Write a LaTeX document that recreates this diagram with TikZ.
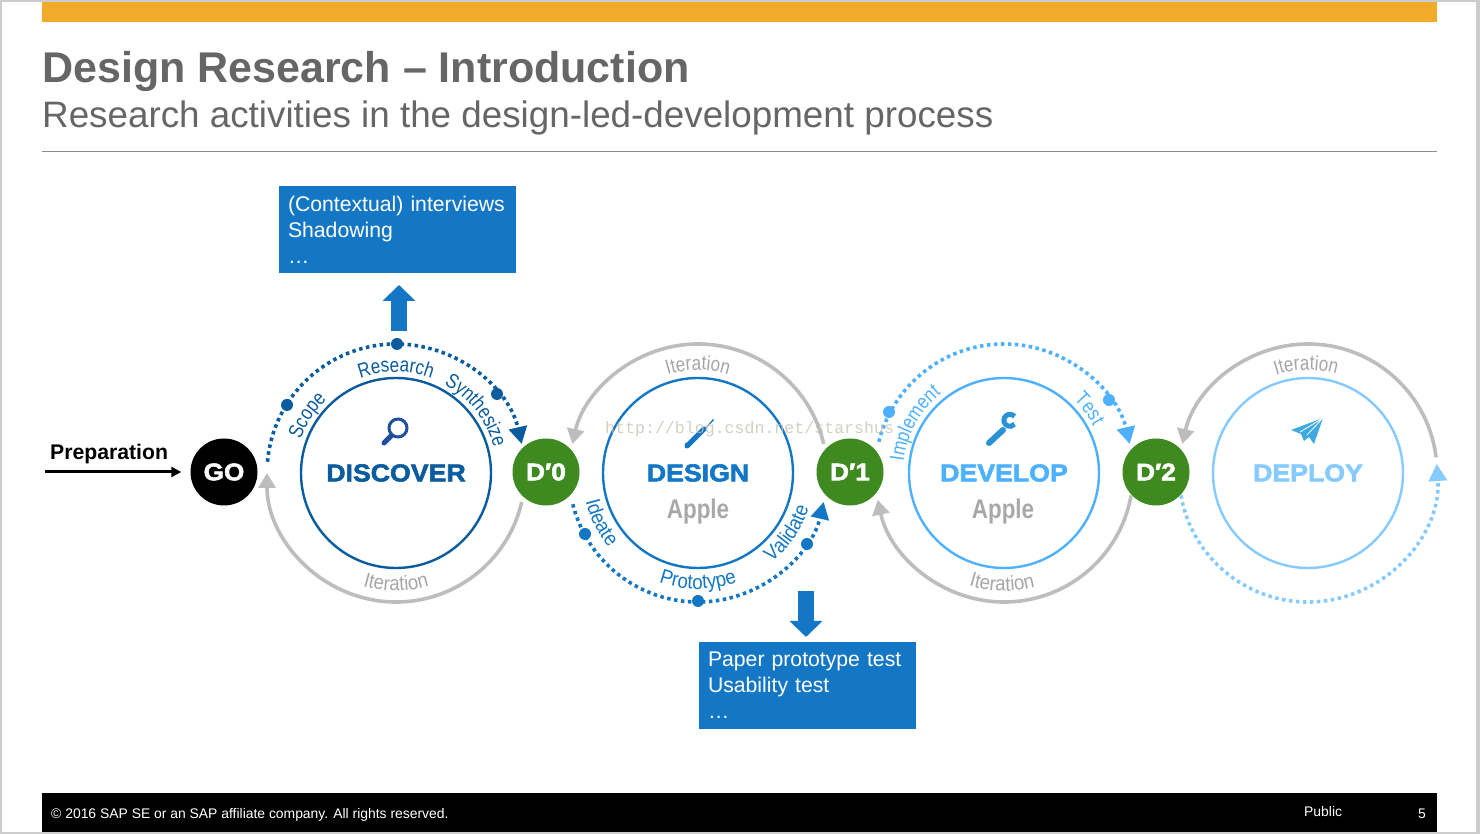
\documentclass[tikz,border=0pt]{standalone}
\usepackage{fontspec}
\setmainfont{Liberation Sans}
\newfontfamily\widefont[FakeStretch=1.09, BoldFeatures={FakeBold=2.4, FakeStretch=1.09}]{Liberation Sans}
\newfontfamily\narrowfont[FakeStretch=0.83, BoldFeatures={FakeStretch=0.83}]{Liberation Sans}
\newfontfamily\lowfont[FakeStretch=0.91]{Liberation Sans}
\newfontfamily\markfont{Liberation Mono}
\usetikzlibrary{arrows.meta,decorations.text}

\definecolor{sapgray}{HTML}{666666}
\definecolor{saporange}{HTML}{F0AB2A}
\definecolor{sapgreen}{HTML}{3F8A20}
\definecolor{arcgray}{HTML}{BDBDBD}
\definecolor{itergray}{HTML}{A6A6A6}
\definecolor{applegray}{HTML}{A8A8A8}
\definecolor{boxblue}{HTML}{1377C5}
\definecolor{discoverblue}{HTML}{0A5C9E}
\definecolor{designblue}{HTML}{1377C5}
\definecolor{developblue}{HTML}{4DB1FF}
\definecolor{deployblue}{HTML}{85CBFF}
\definecolor{lensblue}{HTML}{1F509F}
\definecolor{toolblue}{HTML}{2A93D5}
\definecolor{planeblue}{HTML}{3FA9E0}

\tikzset{
	phase/.style={circle, minimum size=190pt, inner sep=0pt, line width=2.4pt, draw=#1},
	gate/.style={circle, minimum size=67pt, inner sep=0pt, fill=#1, text=white, font=\widefont\bfseries\fontsize{24}{24}\selectfont},
	phasename/.style={text=#1, inner sep=0pt, font=\widefont\bfseries\fontsize{24.5}{25}\selectfont},
	apple/.style={text=applegray, inner sep=0pt, font=\narrowfont\bfseries\fontsize{27}{28}\selectfont},
	stepdot/.style={circle, minimum size=12pt, inner sep=0pt, fill=#1},
	bluebox/.style={fill=boxblue, text=white, align=left, inner xsep=9pt, inner ysep=0pt, minimum height=87pt, font=\fontsize{21.2}{26}\selectfont},
	iterarc/.style={line width=3.6pt, draw=arcgray, -{Triangle[width=17pt,length=15pt]}},
	dotarc/.style={line width=3.6pt, draw=#1, dash pattern=on 3.5pt off 3.5pt, -{Triangle[width=18pt,length=17pt]}},
	blockarrow/.style={line width=16pt, draw=boxblue, -{Triangle[width=32pt,length=16pt]}},
	footertext/.style={text=white, inner sep=0pt, anchor=base west, font=\fontsize{13.9}{14}\selectfont}
}

% text on the upper side of a circle, then on the lower side
\newcommand{\toplabel}[5]{\path[decorate, decoration={text along path, text align=center, text={|\narrowfont\fontsize{20.5}{20}\selectfont\color{#4}|#5}}] ([shift={(#2+70:#3)}]#1.center) arc[start angle=#2+70, end angle=#2-70, radius=#3];}
\newcommand{\lowlabel}[5]{\path[decorate, decoration={text along path, text align=center, text={|\lowfont\fontsize{20.5}{20}\selectfont\color{#4}|#5}}] ([shift={(#2-70:#3)}]#1.center) arc[start angle=#2-70, end angle=#2+70, radius=#3];}

\begin{document}
\begin{tikzpicture}[x=1pt, y=1pt]
	\useasboundingbox (0,0) rectangle (1480,834);
	\fill[black!20] (0,0) rectangle (1480,834);
	\fill[white] (2,2) rectangle (1476,832);
	\fill[saporange] (42,812) rectangle (1437,832);
	\draw[line width=1pt, black!45] (42,682) -- (1437,682);
	\fill[black] (42,2) rectangle (1437,41);

	\node[inner sep=0pt, anchor=base west, text=sapgray, font=\bfseries\fontsize{43}{44}\selectfont] (title) at (42,751) {Design Research – Introduction};
	\node[inner sep=0pt, anchor=base west, text=sapgray, font=\fontsize{36.8}{37}\selectfont] (subtitle) at (42,706) {Research activities in the design-led-development process};
	\node[footertext] (copyright) at (51,15.5) {© 2016 SAP SE or an SAP affiliate company. All rights reserved.};
	\node[footertext] (public) at (1304,17) {Public};
	\node[footertext] (pagenumber) at (1418,15.5) {5};

	\node[phase=discoverblue] (discover) at (396,361) {};
	\node[phase=designblue] (design) at (698,361) {};
	\node[phase=developblue] (develop) at (1004,361) {};
	\node[phase=deployblue] (deploy) at (1308,361) {};

	\node[gate=black] (go) at (224,362) {GO};
	\node[gate=sapgreen] (d0) at (546,362) {D′0};
	\node[gate=sapgreen] (d1) at (850,362) {D′1};
	\node[gate=sapgreen] (d2) at (1156,362) {D′2};

	\node[phasename=discoverblue] (discovername) at (396,361) {DISCOVER};
	\node[phasename=designblue] (designname) at (698,361) {DESIGN};
	\node[phasename=developblue] (developname) at (1004,361) {DEVELOP};
	\node[phasename=deployblue] (deployname) at (1308,361) {DEPLOY};
	\node[apple] (designapple) at (698,322) {Apple};
	\node[apple] (developapple) at (1003,322) {Apple};

	\draw[iterarc] ([shift={(-13:129)}]discover.center) arc[start angle=-13, end angle=-180, radius=129];
	\draw[iterarc] ([shift={(13:129)}]design.center) arc[start angle=13, end angle=167, radius=129];
	\draw[iterarc] ([shift={(-10:129)}]develop.center) arc[start angle=-10, end angle=-168, radius=129];
	\draw[iterarc] ([shift={(7:129)}]deploy.center) arc[start angle=7, end angle=167, radius=129];

	\draw[dotarc=discoverblue] ([shift={(175:129)}]discover.center) arc[start angle=175, end angle=13, radius=129];
	\draw[dotarc=designblue] ([shift={(194:129)}]design.center) arc[start angle=194, end angle=347, radius=129];
	\draw[dotarc=developblue] ([shift={(166:129)}]develop.center) arc[start angle=166, end angle=13, radius=129];
	\draw[dotarc=deployblue] ([shift={(190:129)}]deploy.center) arc[start angle=190, end angle=364, radius=129];

	\node[stepdot=discoverblue] (scopedot) at (287,429) {};
	\node[stepdot=discoverblue] (researchdot) at (397,490) {};
	\node[stepdot=discoverblue] (synthesizedot) at (497,440) {};
	\node[stepdot=designblue] (ideatedot) at (585,300) {};
	\node[stepdot=designblue] (prototypedot) at (698,233) {};
	\node[stepdot=designblue] (validatedot) at (807,290) {};
	\node[stepdot=developblue] (implementdot) at (889,422) {};
	\node[stepdot=developblue] (testdot) at (1109,434) {};

	\toplabel{discover}{147}{101}{discoverblue}{Scope}
	\toplabel{discover}{90}{101}{discoverblue}{Research}
	\toplabel{discover}{38}{101}{discoverblue}{Synthesize}
	\lowlabel{discover}{270}{118}{itergray}{Iteration}
	\toplabel{design}{90}{103}{itergray}{Iteration}
	\lowlabel{design}{207}{116}{designblue}{Ideate}
	\lowlabel{design}{270}{116}{designblue}{Prototype}
	\lowlabel{design}{326}{116}{designblue}{Validate}
	\toplabel{develop}{151}{101}{developblue}{Implement}
	\toplabel{develop}{37}{101}{developblue}{Test}
	\lowlabel{develop}{269}{118}{itergray}{Iteration}
	\toplabel{deploy}{91}{103}{itergray}{Iteration}

	% icons
	\draw[line width=3pt, draw=lensblue] (398,406) circle[radius=9];
	\draw[line width=5pt, draw=lensblue, line cap=round] (391,398) -- (384,391);
	\fill[designblue] (685,391) -- (688,386) -- (713,415) -- (714,414) -- (691,391) -- cycle;
	\draw[line width=5pt, draw=designblue, line cap=round] (687,388) -- (704,405);
	\draw[line width=6pt, draw=toolblue, line cap=round] (989,391) -- (1003,404);
	\draw[line width=5pt, draw=toolblue] (1014.5,417.5) arc[start angle=40, end angle=320, radius=6];
	\fill[planeblue] (1323,416) -- (1291,404) -- (1301,400) -- (1304,393) -- (1309,397) -- (1314,390) -- cycle;
	\draw[line width=0.8pt, draw=white] (1323,416) -- (1300,402) (1323,416) -- (1307,399);

	\node[inner sep=0pt, anchor=base west, font=\bfseries\fontsize{21.2}{22}\selectfont] (preparation) at (50,374) {Preparation};
	\coordinate (prepstart) at (45,362);
	\draw[line width=3pt, -{Triangle[width=10pt,length=10pt]}, shorten >=9pt] (prepstart) -- (go);

	\node[bluebox, text width=219pt] (researchbox) at (397.5,604.5) {(Contextual) interviews\\Shadowing\\…};
	\node[bluebox, text width=199pt] (testbox) at (807.5,148.5) {Paper prototype test\\Usability test\\…};
	\coordinate (upfrom) at (399,503);
	\coordinate (upto) at (399,549);
	\coordinate (downfrom) at (806,243);
	\coordinate (downto) at (806,197);
	\draw[blockarrow] (upfrom) -- (upto);
	\draw[blockarrow] (downfrom) -- (downto);

	\node[inner sep=0pt, anchor=base west, text=black!30!white!90!yellow, opacity=0.75, font=\markfont\fontsize{16.6}{17}\selectfont] (watermark) at (605,400) {http://blog.csdn.net/starshus};
\end{tikzpicture}
\end{document}
